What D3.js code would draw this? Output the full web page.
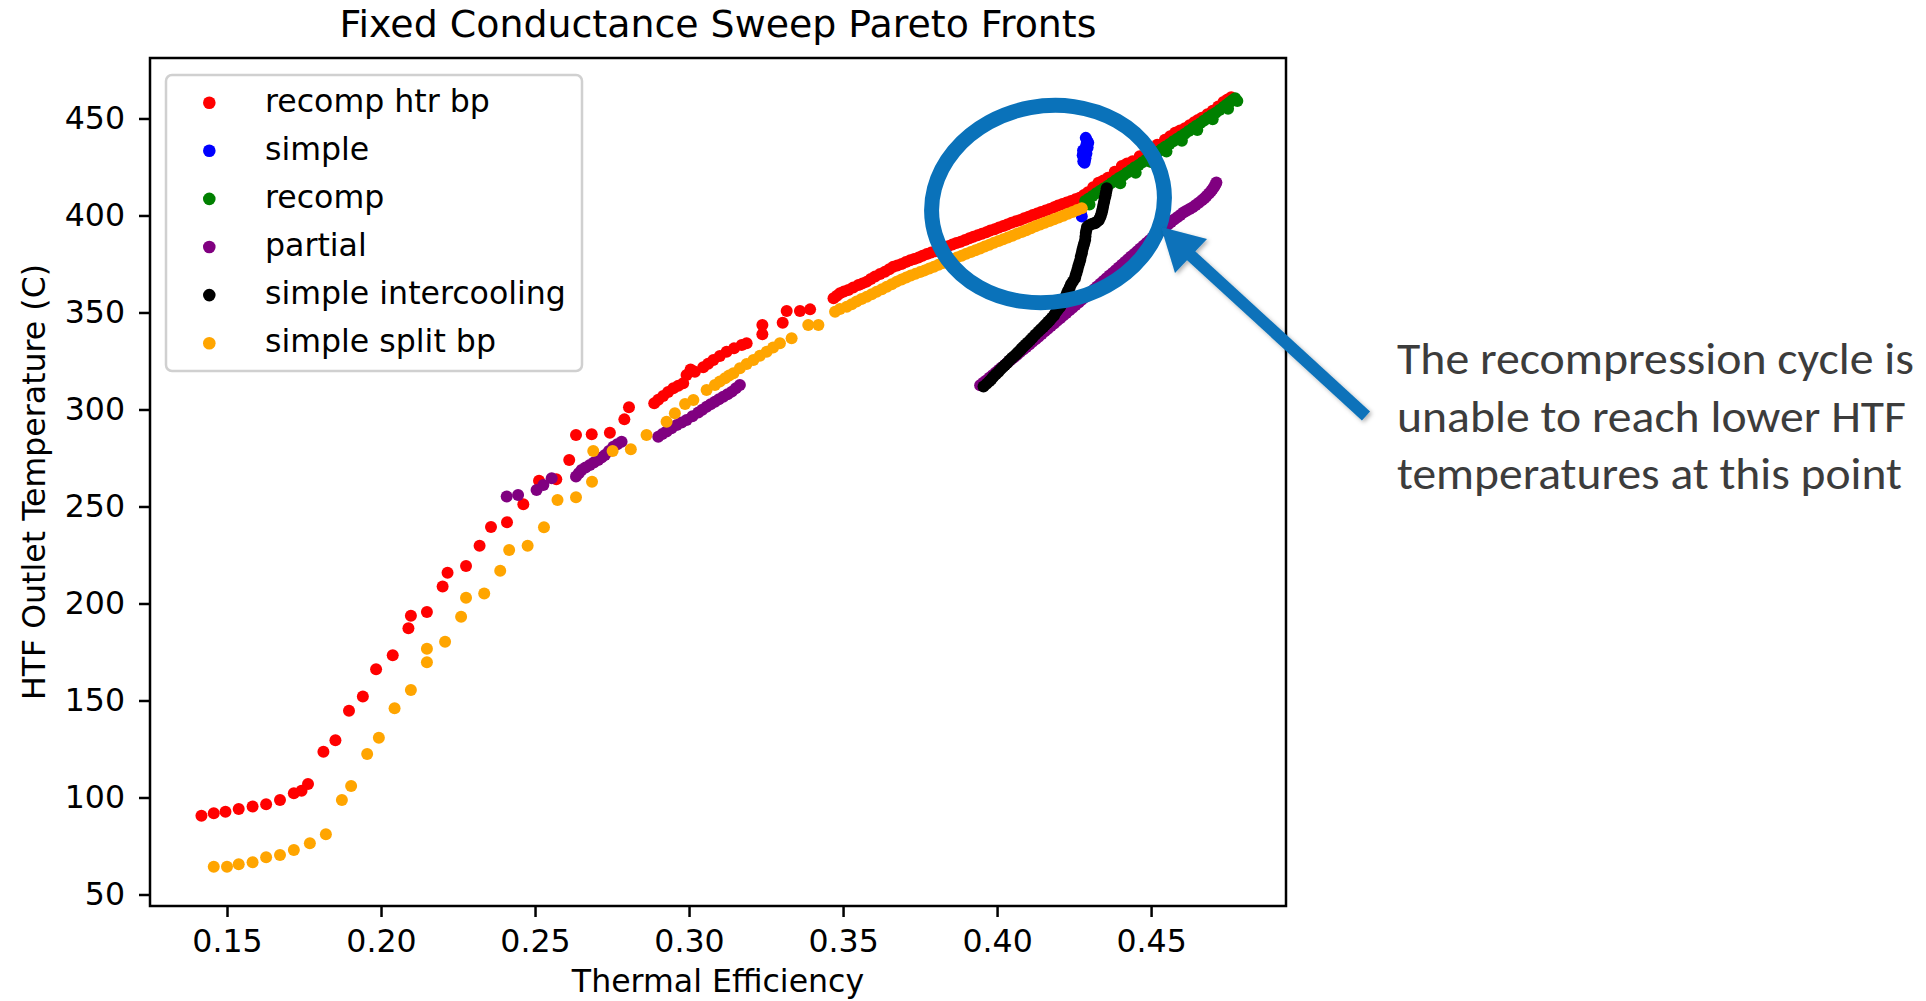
<!DOCTYPE html>
<html><head><meta charset="utf-8">
<script src="https://cdn.jsdelivr.net/npm/d3@7"></script>
<style>
html,body{margin:0;padding:0;background:#fff;}
svg{display:block;}
</style></head><body>
<svg id="chart" width="1926" height="1001"></svg>
<script>
// ---------------- DATA ----------------
const seriesNames = ["recomp htr bp","simple","recomp","partial","simple intercooling","simple split bp"];
const seriesColors = ["#ff0000","#0000ff","#008000","#800080","#000000","#ffa500"];

const recompHtrBp = [
[0.1417,90.6],[0.1457,91.9],[0.1495,92.7],[0.1538,94.1],[0.1583,95.3],[0.1627,96.5],[0.1672,98.7],[0.1717,102.2],[0.1742,103.5],[0.1763,107.0],
[0.1813,123.6],[0.1852,129.5],[0.1896,144.7],[0.1941,152.0],[0.1984,166.1],[0.2038,173.3],[0.2089,187.2],[0.2097,193.7],[0.2149,195.6],[0.2200,208.7],
[0.2216,215.9],[0.2276,219.3],[0.2320,229.8],[0.2357,239.4],[0.2409,241.9],[0.2462,251.1],[0.2513,263.3],[0.2569,264.0],[0.2611,274.0],[0.2633,286.9],
[0.2684,287.2],[0.2743,288.0],[0.2790,294.9],[0.2805,301.1],[0.2887,303.2],[0.2900,305.0],[0.2916,307.0],[0.2932,309.0],[0.2949,310.9],[0.2965,312.2],
[0.2981,313.5],[0.2992,317.8],[0.3005,320.6],[0.3019,319.5],[0.3046,321.8],[0.3062,323.6],[0.3079,325.5],[0.3100,327.6],[0.3122,329.8],[0.3146,331.5],
[0.3171,333.2],[0.3187,334.1],[0.3238,338.8],[0.3238,343.6],[0.3304,344.7],[0.3317,350.8],[0.3360,350.8],[0.3393,351.6],[0.3469,357.3],[0.3480,358.6],
[0.3490,359.9],[0.3503,360.8],[0.3517,361.6],[0.3533,362.9],[0.3550,364.2],[0.3563,365.0],[0.3577,365.9],[0.3590,367.2],[0.3604,368.5],[0.3620,369.8],
[0.3636,371.0],[0.3650,372.3],[0.3663,373.6],[0.3676,374.2],[0.3690,375.0],[0.3704,376.0],[0.3718,376.9],[0.3731,377.6],[0.3745,378.3],[0.3758,379.3],
[0.3772,380.2],[0.3786,380.9],[0.3800,381.6],[0.3814,382.5],[0.3828,383.4],[0.3841,384.2],[0.3855,385.0],[0.3868,385.8],[0.3882,386.5],[0.3896,387.4],
[0.3910,388.3],[0.3923,389.0],[0.3937,389.8],[0.3951,390.6],[0.3965,391.4],[0.3978,392.2],[0.3992,392.9],[0.4006,393.8],[0.4020,394.6],[0.4033,395.4],
[0.4047,396.2],[0.4061,397.0],[0.4075,397.7],[0.4088,398.6],[0.4102,399.4],[0.4116,400.2],[0.4130,401.0],[0.4143,401.8],[0.4157,402.5],[0.4171,403.4],
[0.4185,404.3],[0.4198,405.1],[0.4212,405.9],[0.4226,406.7],[0.4240,407.5],[0.4254,408.3],[0.4268,409.1],[0.4282,410.5],[0.4295,412.0],[0.4312,414.5],
[0.4329,416.9],[0.4345,418.0],[0.4360,419.5],[0.4382,422.5],[0.4405,425.5],[0.4422,426.8],[0.4440,428.0],[0.4463,430.5],[0.4486,433.2],[0.4503,434.8],
[0.4520,436.5],[0.4545,439.0],[0.4562,440.8],[0.4578,442.7],[0.4594,443.8],[0.4610,445.0],[0.4625,446.5],[0.4640,448.0],[0.4652,449.2],[0.4665,450.4],
[0.4683,452.2],[0.4700,454.0],[0.4718,456.2],[0.4735,458.5],[0.4748,459.8],[0.4760,461.0]
];
const simple = [
[0.4292,438.5],[0.4288,440.0],[0.4296,437.5],[0.4290,436.5],[0.4294,435.0],[0.4287,434.5],[0.4279,433.5],[0.4283,432.5],[0.4290,432.0],[0.4278,431.0],
[0.4282,430.5],[0.4287,429.5],[0.4285,428.5],[0.4280,428.0],[0.4284,427.2],[0.4275,399.5],[0.4272,401.0]
];
const recomp = [
[0.4286,407.5],[0.4298,408.7],[0.4300,405.6],[0.4310,410.0],[0.4322,411.4],[0.4335,412.8],[0.4347,414.0],[0.4350,411.0],[0.4360,415.3],[0.4372,416.8],
[0.4385,418.2],[0.4397,419.4],[0.4400,416.6],[0.4410,420.6],[0.4422,422.0],[0.4435,423.5],[0.4447,424.8],[0.4450,422.0],[0.4460,426.0],[0.4472,427.4],
[0.4485,428.9],[0.4497,430.2],[0.4500,427.6],[0.4510,431.4],[0.4522,432.8],[0.4535,434.3],[0.4547,435.5],[0.4550,433.0],[0.4560,436.8],[0.4572,438.2],
[0.4585,439.6],[0.4597,440.9],[0.4600,438.5],[0.4610,442.1],[0.4622,443.5],[0.4635,445.0],[0.4647,446.3],[0.4650,444.0],[0.4660,447.6],[0.4672,449.0],
[0.4685,450.5],[0.4697,451.8],[0.4700,449.6],[0.4710,453.0],[0.4722,454.4],[0.4735,455.9],[0.4745,457.1],[0.4750,455.0],[0.4755,458.3],[0.4764,459.4],
[0.4780,459.0],[0.4773,460.4]
];
const partial = [
[0.2408,255.1],[0.2445,255.9],[0.2505,258.5],[0.2527,261.1],[0.2554,264.5],[0.2633,265.4],[0.2642,267.1],[0.2651,268.8],[0.2664,270.1],[0.2678,271.4],
[0.2691,272.7],[0.2705,274.0],[0.2716,275.2],[0.2727,276.5],[0.2740,278.6],[0.2754,280.8],[0.2767,282.1],[0.2781,283.4],[0.2900,286.0],[0.2913,287.3],
[0.2927,288.6],[0.2943,290.3],[0.2960,292.0],[0.2976,293.3],[0.2992,294.6],[0.3011,296.5],[0.3030,298.4],[0.3043,299.9],[0.3057,301.4],[0.3070,302.7],
[0.3084,304.0],[0.3097,305.3],[0.3111,306.6],[0.3125,307.9],[0.3139,309.2],[0.3152,310.9],[0.3165,312.6],
[0.3945,312.5],[0.3955,313.8],[0.3965,315.0],[0.3975,316.3],[0.3985,317.6],[0.3995,319.0],[0.4005,320.3],[0.4015,321.6],[0.4025,322.9],[0.4035,324.3],
[0.4045,325.6],[0.4055,326.9],[0.4065,328.2],[0.4075,329.6],[0.4085,330.9],[0.4095,332.2],[0.4105,333.5],[0.4115,334.9],[0.4125,336.2],[0.4135,337.5],
[0.4145,338.9],[0.4155,340.3],[0.4165,341.6],[0.4175,343.0],[0.4185,344.3],[0.4195,345.7],[0.4205,347.0],[0.4215,348.4],[0.4225,349.7],[0.4235,351.1],
[0.4245,352.4],[0.4255,353.8],[0.4265,355.1],[0.4275,356.5],[0.4285,357.8],[0.4295,359.2],[0.4305,360.6],[0.4315,362.0],[0.4325,363.4],[0.4335,364.8],
[0.4345,366.2],[0.4355,367.6],[0.4365,369.0],[0.4375,370.4],[0.4385,371.8],[0.4395,373.2],[0.4405,374.6],[0.4415,376.0],[0.4425,377.4],[0.4435,378.8],
[0.4445,380.2],[0.4455,381.6],[0.4465,383.0],[0.4475,384.4],[0.4485,385.8],[0.4495,387.2],[0.4505,388.6],[0.4515,390.0],[0.4525,391.3],[0.4535,392.7],
[0.4545,394.0],[0.4555,395.3],[0.4565,396.6],[0.4575,397.9],[0.4585,399.1],[0.4595,400.3],[0.4605,401.5],[0.4615,402.4],[0.4625,403.3],[0.4635,404.3],
[0.4645,405.4],[0.4655,406.6],[0.4665,407.8],[0.4673,408.9],[0.4680,410.0],[0.4688,411.3],[0.4695,412.6],[0.4700,413.7],[0.4705,414.8],[0.4709,416.0],[0.4712,417.0]
];
const simpleIntercooling = [
[0.3956,311.8],[0.3966,313.2],[0.3975,314.5],[0.3982,315.7],[0.3988,316.9],[0.3996,318.2],[0.4005,319.5],[0.4012,320.8],[0.4020,322.0],[0.4026,322.9],
[0.4032,323.8],[0.4040,325.2],[0.4048,326.5],[0.4055,327.5],[0.4062,328.5],[0.4068,329.5],[0.4075,330.5],[0.4080,331.5],[0.4086,332.4],[0.4093,333.5],
[0.4100,334.5],[0.4108,335.8],[0.4115,337.0],[0.4124,338.5],[0.4134,340.1],[0.4142,341.3],[0.4150,342.5],[0.4156,343.5],[0.4162,344.5],[0.4167,345.3],
[0.4172,346.1],[0.4178,347.3],[0.4185,348.5],[0.4190,349.8],[0.4195,351.0],[0.4200,352.0],[0.4205,353.0],[0.4210,354.5],[0.4215,356.0],[0.4220,357.5],
[0.4225,359.0],[0.4228,360.3],[0.4232,361.6],[0.4236,363.0],[0.4240,364.5],[0.4246,366.0],[0.4253,367.6],[0.4255,369.0],[0.4258,370.5],[0.4261,372.2],
[0.4264,374.0],[0.4267,375.5],[0.4270,377.1],[0.4272,378.8],[0.4275,380.5],[0.4277,382.2],[0.4280,384.0],[0.4283,385.7],[0.4286,387.4],[0.4287,389.2],
[0.4288,391.0],[0.4290,392.5],[0.4292,394.0],[0.4298,394.8],[0.4305,395.5],[0.4312,395.8],[0.4318,396.0],[0.4324,396.8],[0.4330,397.5],[0.4334,398.8],
[0.4337,400.0],[0.4340,401.5],[0.4342,403.0],[0.4344,404.5],[0.4346,406.0],[0.4348,407.5],[0.4350,409.0],[0.4352,410.2],[0.4353,411.5],[0.4355,412.8],[0.4356,414.0]
];
const simpleSplitBp = [
[0.1457,64.3],[0.1500,64.3],[0.1538,65.6],[0.1583,66.6],[0.1627,69.2],[0.1672,70.4],[0.1717,72.9],[0.1769,76.4],[0.1821,81.0],[0.1873,98.7],
[0.1903,105.9],[0.1955,122.4],[0.1993,130.8],[0.2044,146.0],[0.2097,155.4],[0.2149,169.7],[0.2149,176.7],[0.2208,180.3],[0.2260,193.2],[0.2276,203.0],
[0.2335,205.1],[0.2387,216.9],[0.2416,227.6],[0.2476,229.8],[0.2529,239.3],[0.2573,253.4],[0.2633,254.7],[0.2685,262.8],[0.2689,278.6],[0.2752,278.6],
[0.2811,279.5],[0.2862,286.9],[0.2927,293.7],[0.2954,298.0],[0.2987,302.8],[0.3014,304.9],[0.3057,310.1],[0.3084,312.6],[0.3100,314.4],[0.3117,316.1],
[0.3130,317.5],[0.3144,318.7],[0.3165,321.2],[0.3187,323.4],[0.3209,325.5],[0.3230,327.7],[0.3252,329.8],[0.3273,332.0],[0.3295,334.1],[0.3333,336.7],
[0.3387,343.6],[0.3420,343.6],[0.3474,350.4],[0.3490,351.8],[0.3512,353.0],[0.3528,354.3],[0.3544,355.6],[0.3560,356.9],[0.3577,358.1],[0.3593,359.4],
[0.3609,360.7],[0.3626,362.0],[0.3642,363.3],[0.3658,364.6],[0.3674,365.9],[0.3690,367.0],[0.3705,368.0],[0.3720,369.0],[0.3735,369.9],[0.3750,370.8],
[0.3765,371.7],[0.3780,372.7],[0.3795,373.6],[0.3810,374.6],[0.3825,375.5],[0.3840,376.5],[0.3855,377.5],[0.3870,378.4],[0.3885,379.3],[0.3900,380.3],
[0.3915,381.2],[0.3930,382.1],[0.3945,383.0],[0.3960,384.0],[0.3975,384.9],[0.3990,385.9],[0.4005,386.8],[0.4020,387.8],[0.4035,388.7],[0.4050,389.6],
[0.4065,390.6],[0.4080,391.5],[0.4095,392.4],[0.4110,393.4],[0.4125,394.4],[0.4140,395.3],[0.4155,396.2],[0.4170,397.1],[0.4185,398.0],[0.4200,399.0],
[0.4215,399.9],[0.4230,400.9],[0.4245,401.8],[0.4260,402.8],[0.4275,403.7]
];
const seriesData = [recompHtrBp, simple, recomp, partial, simpleIntercooling, simpleSplitBp];

const xTicks = [0.15,0.20,0.25,0.30,0.35,0.40,0.45];
const yTicks = [50,100,150,200,250,300,350,400,450];
const xDomain = [0.1250,0.4938];
const yDomain = [44.07,481.17];

const titleText = "Fixed Conductance Sweep Pareto Fronts";
const xLabelText = "Thermal Efficiency";
const yLabelText = "HTF Outlet Temperature (C)";
const noteLines = ["The recompression cycle is","unable to reach lower HTF","temperatures at this point"];

// ---------------- LAYOUT ----------------
const M = {left:150, right:1286, top:58, bottom:906};
const FONT = "'DejaVu Sans', sans-serif";
const svg = d3.select("#chart");
svg.append("rect").attr("width",1926).attr("height",1001).attr("fill","#fff");

const x = d3.scaleLinear().domain(xDomain).range([M.left, M.right]);
const y = d3.scaleLinear().domain(yDomain).range([M.bottom, M.top]);

// points
const plot = svg.append("g");
seriesData.forEach((pts, i) => {
  plot.append("g").selectAll("circle").data(pts).join("circle")
    .attr("cx", d => x(d[0])).attr("cy", d => y(d[1])).attr("r", 6)
    .attr("fill", seriesColors[i]);
});

// frame
svg.append("rect").attr("x",M.left).attr("y",M.top)
  .attr("width",M.right-M.left).attr("height",M.bottom-M.top)
  .attr("fill","none").attr("stroke","#000").attr("stroke-width",2.5);

// axes
const xAxis = svg.append("g").attr("transform",`translate(0,${M.bottom})`)
  .call(d3.axisBottom(x).tickValues(xTicks).tickFormat(d3.format(".2f")).tickSize(11).tickPadding(13));
const yAxis = svg.append("g").attr("transform",`translate(${M.left},0)`)
  .call(d3.axisLeft(y).tickValues(yTicks).tickFormat(d3.format("d")).tickSize(11).tickPadding(14));
[xAxis,yAxis].forEach(a=>{
  a.select(".domain").remove();
  a.selectAll(".tick line").attr("stroke","#000").attr("stroke-width",2.5);
  a.selectAll(".tick text").attr("fill","#000").style("font-family",FONT).style("font-size","31.6px");
});

// title and labels
svg.append("text").attr("x",(M.left+M.right)/2).attr("y",37).attr("text-anchor","middle")
  .style("font-family",FONT).style("font-size","37.9px").attr("fill","#000").text(titleText);
svg.append("text").attr("x",(M.left+M.right)/2).attr("y",992).attr("text-anchor","middle")
  .style("font-family",FONT).style("font-size","31.6px").attr("fill","#000").text(xLabelText);
svg.append("text").attr("transform",`translate(45,${(M.top+M.bottom)/2}) rotate(-90)`).attr("text-anchor","middle")
  .style("font-family",FONT).style("font-size","31.6px").attr("fill","#000").text(yLabelText);

// legend
const lg = svg.append("g");
lg.append("rect").attr("x",166).attr("y",75).attr("width",416).attr("height",296).attr("rx",6)
  .attr("fill","#fff").attr("fill-opacity",0.8).attr("stroke","#d0d0d0").attr("stroke-width",2.5);
seriesNames.forEach((name,i)=>{
  const cy = 102.7 + i*48.1;
  lg.append("circle").attr("cx",209.3).attr("cy",cy).attr("r",6.3).attr("fill",seriesColors[i]);
  lg.append("text").attr("x",265).attr("y",cy+9).style("font-family",FONT).style("font-size","31.6px")
    .attr("fill","#000").text(name);
});

// annotation (slide overlay)
const blue = "#0A72BA";
const defs = svg.append("defs");
const f = defs.append("filter").attr("id","shadow").attr("x","-20%").attr("y","-20%").attr("width","140%").attr("height","140%");
f.append("feDropShadow").attr("dx",2).attr("dy",2).attr("stdDeviation",2).attr("flood-color","#000").attr("flood-opacity",0.3);

svg.append("ellipse").attr("cx",1048).attr("cy",204).attr("rx",117).attr("ry",98)
  .attr("transform","rotate(-10.5,1048,204)")
  .attr("fill","none").attr("stroke",blue).attr("stroke-width",15);

const ar = svg.append("g").attr("filter","url(#shadow)");
ar.append("line").attr("x1",1366).attr("y1",416).attr("x2",1186).attr("y2",251)
  .attr("stroke",blue).attr("stroke-width",12);
ar.append("polygon").attr("points","1161,227 1207,239 1175,273").attr("fill",blue);

const note = svg.append("g");
const noteWidths = [517,509,505];
noteLines.forEach((t,i)=>{
  note.append("text").attr("x",1397).attr("y",374+i*57.5)
    .attr("textLength",noteWidths[i]).attr("lengthAdjust","spacingAndGlyphs")
    .style("font-family","Carlito, Calibri, Lato, 'Open Sans', sans-serif").style("font-size","46px")
    .attr("fill","#3c3c3c").text(t);
});
</script>
</body></html>
